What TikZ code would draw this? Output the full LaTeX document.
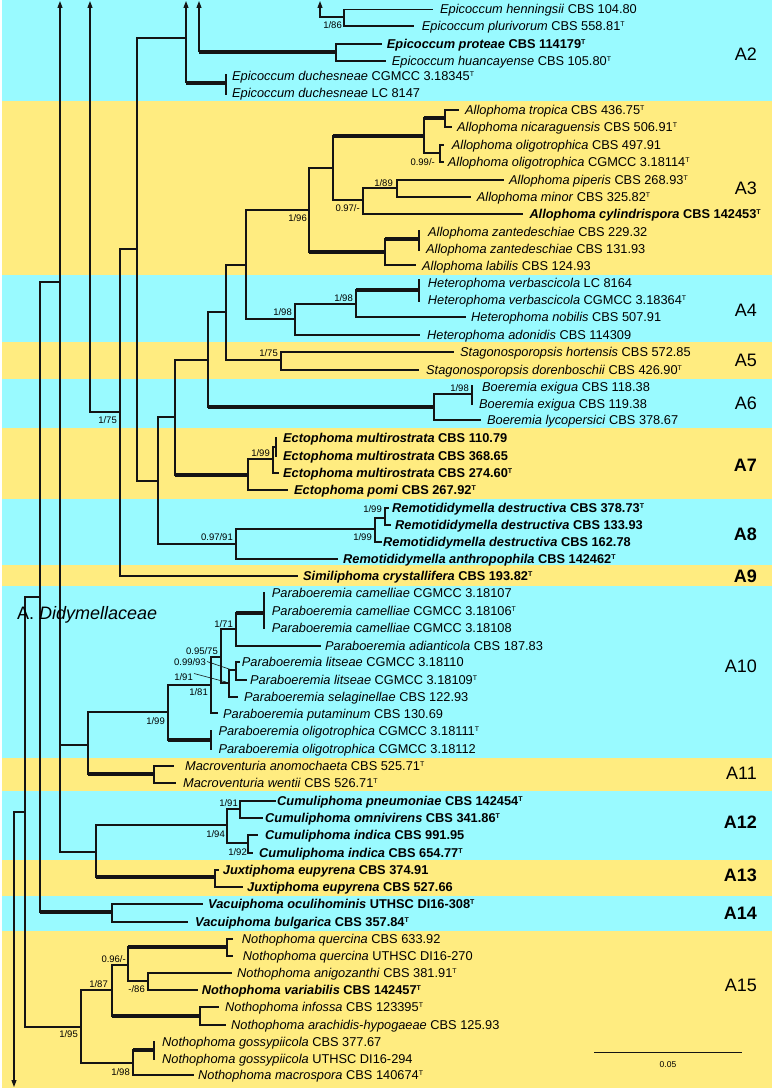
\documentclass[tikz,border=0pt]{standalone}
\usepackage{fontspec}
\setmainfont{Liberation Sans}
\usetikzlibrary{arrows.meta}
\definecolor{cy}{RGB}{153,250,255}
\definecolor{yl}{RGB}{255,236,128}
\definecolor{ln}{RGB}{20,20,20}
\newcommand{\Ty}{\raisebox{4.3pt}{\fontsize{7}{7}\selectfont T}}
\newcommand{\brH}[3]{\draw[br] (#1,#3) -- (#2,#3);}
\newcommand{\brT}[3]{\draw[thk] (#1,#3) -- (#2,#3);}
\newcommand{\brV}[3]{\draw[br] (#1,#2) -- (#1,#3);}
\newcommand{\lf}[4]{\node[leaf] (#1) at (#2,{#3+4.4}) {#4};}
\newcommand{\lfb}[4]{\node[leaf,font=\fontsize{12.8}{14}\selectfont\bfseries] (#1) at (#2,{#3+4.4}) {#4};}
\newcommand{\sv}[4]{\node[supp] (#1) at (#2,{#3+3.4}) {#4};}
\newcommand{\cl}[3]{\node[clade] (#1) at (757,{#2+6.4}) {#3};}
\newcommand{\clb}[3]{\node[clade,font=\fontsize{18}{20}\selectfont\bfseries] (#1) at (757,{#2+6.4}) {#3};}
\tikzset{
  br/.style={draw=ln, line width=1.1pt, line cap=rect},
  thk/.style={draw=ln, line width=3.2pt},
  upar/.style={draw=ln, line width=1.1pt, -{Triangle[length=7pt,width=5pt]}},
  leaf/.style={anchor=base west, inner sep=0pt, font=\fontsize{12.8}{14}\selectfont},
  supp/.style={anchor=base east, inner sep=0pt, font=\fontsize{9.5}{10}\selectfont},
  clade/.style={anchor=base east, inner sep=0pt, font=\fontsize{18}{20}\selectfont},
}
\begin{document}
\begin{tikzpicture}[x=1pt,y=-1pt]
\useasboundingbox (0,0) rectangle (774,1089);
% bands
\fill[cy] (2,0) rectangle (772,101.5);
\fill[yl] (2,101.5) rectangle (772,275);
\fill[cy] (2,275) rectangle (772,342);
\fill[yl] (2,342) rectangle (772,378.5);
\fill[cy] (2,378.5) rectangle (772,427.5);
\fill[yl] (2,427.5) rectangle (772,498.5);
\fill[cy] (2,498.5) rectangle (772,565);
\fill[yl] (2,565) rectangle (772,585.5);
\fill[cy] (2,585.5) rectangle (772,757.5);
\fill[yl] (2,757.5) rectangle (772,791);
\fill[cy] (2,791) rectangle (772,859.5);
\fill[yl] (2,859.5) rectangle (772,895.5);
\fill[cy] (2,895.5) rectangle (772,931);
\fill[yl] (2,931) rectangle (772,1088);
% arrows off the crop
\draw[upar] (320,17) -- (320,1);
\draw[upar] (199,52) -- (199,1);
\draw[upar] (186,83) -- (186,1);
\draw[upar] (90,412) -- (90,1);
\draw[upar] (60,852) -- (60,1);
\draw[upar] (14,812) -- (14,1087);
% Epicoccum
\brH{320}{344}{17}
\brV{344}{9.5}{26}
\brH{344}{432}{9.5}
\brH{344}{413}{26}
\brT{199}{336}{52}
\brV{336}{44}{61}
\brH{336}{381}{44}
\brH{336}{385}{61}
\brH{137}{186}{38}
\brT{186}{226}{83}
\brV{226}{75}{94}
% backbone
\brV{137}{38}{481}
\brH{120}{137}{249}
\brV{120}{249}{576}
\brH{90}{120}{412}
\brH{120}{297}{576}
\brH{137}{158}{481}
\brV{158}{417}{544}
\brH{158}{175}{417}
\brV{175}{360}{475}
\brH{175}{208}{360}
\brV{208}{312}{407}
\brH{208}{226}{312}
\brV{226}{265}{360}
\brH{226}{246}{265}
\brV{246}{210}{319}
\brH{246}{309}{210}
\brV{309}{168}{252}
\brH{309}{333}{168}
\brV{333}{136}{200}
% Allophoma
\brT{333}{424}{136}
\brV{424}{118}{153}
\brT{424}{445}{118}
\brV{445}{110}{127}
\brH{445}{458}{110}
\brH{445}{451}{127}
\brH{424}{440}{153}
\brV{440}{145}{162}
\brH{440}{443}{145}
\brH{440}{443}{162}
\brH{333}{363}{200}
\brV{363}{188}{214}
\brH{363}{397}{188}
\brV{397}{180}{197}
\brH{397}{503}{180}
\brH{397}{470}{197}
\brH{363}{522}{214}
\brT{309}{385}{252}
\brV{385}{239}{265}
\brT{385}{419}{239}
\brV{419}{231}{250}
\brH{385}{415}{265}
% Heterophoma
\brH{246}{295}{319}
\brV{295}{304}{335}
\brH{295}{356}{304}
\brV{356}{290}{317}
\brT{356}{419}{290}
\brV{419}{280}{301}
\brH{356}{465}{317}
\brH{295}{419}{335}
% Stagonosporopsis
\brH{226}{281}{360}
\brV{281}{352}{370}
\brH{281}{453}{352}
\brH{281}{418}{370}
% Boeremia
\brT{208}{434}{407}
\brV{434}{394}{420}
\brH{434}{472}{394}
\brV{472}{386}{404}
\brH{434}{480}{420}
% Ectophoma
\brT{175}{248}{475}
\brV{248}{459}{490}
\brH{248}{273}{459}
\brV{273}{447}{473}
\brH{273}{276}{447}
\brV{276}{438}{456}
\brH{273}{278}{473}
\brH{248}{287}{490}
% Remotididymella
\brH{158}{236}{544}
\brV{236}{529}{559}
\brH{236}{375}{529}
\brV{375}{518}{542}
\brH{375}{385}{518}
\brV{385}{508}{525}
\brH{385}{388}{508}
\brH{385}{390}{525}
\brH{375}{381}{542}
\brH{236}{337}{559}
% Paraboeremia
\brH{40}{60}{282}
\brH{60}{88}{745}
\brV{88}{712}{774}
\brH{88}{168}{712}
\brV{168}{685}{740}
\brH{168}{211}{685}
\brV{211}{657}{713}
\brH{211}{217}{713}
\brH{211}{221}{657}
\brV{221}{629}{683}
\brH{221}{236}{629}
\brV{236}{613}{646}
\brT{236}{264}{613}
\brV{264}{593}{628}
\brH{236}{320}{646}
\brH{221}{229}{683}
\brV{229}{670}{697}
\brH{229}{236}{670}
\brV{236}{662}{680}
\brH{236}{239}{662}
\brH{236}{246}{680}
\brH{229}{237}{697}
\brT{168}{211}{740}
\brV{211}{731}{749}
% Macroventuria
\brT{88}{154}{774}
\brV{154}{766}{783}
\brH{154}{173}{766}
\brH{154}{175}{783}
% Cumuliphoma
\brH{60}{96}{852}
\brV{96}{825}{877}
\brH{96}{227}{825}
\brV{227}{809}{843}
\brH{227}{240}{809}
\brV{240}{801}{818}
\brH{240}{275}{801}
\brH{240}{262}{818}
\brH{227}{248}{843}
\brV{248}{835}{853}
\brH{248}{257}{835}
\brH{248}{252}{853}
% Juxtiphoma
\brT{96}{215}{877}
\brV{215}{870}{887}
\brH{215}{218}{870}
\brH{215}{242}{887}
% Vacuiphoma and base
\brV{40}{282}{912}
\brT{40}{112}{912}
\brV{112}{904}{922}
\brH{112}{202}{904}
\brH{112}{187}{922}
\brH{25}{40}{597}
\brV{25}{597}{1027}
\brH{25}{81}{1027}
\brH{14}{25}{812}
% Nothophoma
\brV{81}{990}{1063}
\brH{81}{112}{990}
\brV{112}{965}{1016}
\brH{112}{128}{965}
\brV{128}{947}{981}
\brT{128}{227}{947}
\brV{227}{939}{956}
\brH{227}{232}{939}
\brH{227}{232}{956}
\brH{128}{148}{981}
\brV{148}{973}{990}
\brH{148}{231}{973}
\brH{148}{197}{990}
\brT{112}{200}{1016}
\brV{200}{1007}{1025}
\brH{200}{218}{1007}
\brH{200}{225}{1025}
\brH{81}{133}{1063}
\brV{133}{1050}{1075}
\brT{133}{154}{1050}
\brV{154}{1042}{1059}
\brH{133}{193}{1075}
% leaves
\lf{l1}{440}{9.5}{\textit{Epicoccum henningsii} CBS 104.80}
\lf{l2}{421.7}{26}{\textit{Epicoccum plurivorum} CBS 558.81\Ty}
\lfb{l3}{386.7}{44}{\textit{Epicoccum proteae} CBS 114179\Ty}
\lf{l4}{391.7}{61}{\textit{Epicoccum huancayense} CBS 105.80\Ty}
\lf{l5}{232}{76.5}{\textit{Epicoccum duchesneae} CGMCC 3.18345\Ty}
\lf{l6}{232}{93}{\textit{Epicoccum duchesneae} LC 8147}
\lf{l7}{465}{110}{\textit{Allophoma tropica} CBS 436.75\Ty}
\lf{l8}{457}{127}{\textit{Allophoma nicaraguensis} CBS 506.91\Ty}
\lf{l9}{451.7}{145}{\textit{Allophoma oligotrophica} CBS 497.91}
\lf{l10}{447.7}{162}{\textit{Allophoma oligotrophica} CGMCC 3.18114\Ty}
\lf{l11}{509}{180}{\textit{Allophoma piperis} CBS 268.93\Ty}
\lf{l12}{476.7}{197}{\textit{Allophoma minor} CBS 325.82\Ty}
\lfb{l13}{529.3}{214}{\textit{Allophoma cylindrispora} CBS 142453\Ty}
\lf{l14}{428}{232}{\textit{Allophoma zantedeschiae} CBS 229.32}
\lf{l15}{426}{249}{\textit{Allophoma zantedeschiae} CBS 131.93}
\lf{l16}{422}{266}{\textit{Allophoma labilis} CBS 124.93}
\lf{l17}{427.7}{283}{\textit{Heterophoma verbascicola} LC 8164}
\lf{l18}{427.7}{300}{\textit{Heterophoma verbascicola} CGMCC 3.18364\Ty}
\lf{l19}{471}{317}{\textit{Heterophoma nobilis} CBS 507.91}
\lf{l20}{427}{335}{\textit{Heterophoma adonidis} CBS 114309}
\lf{l21}{460}{352}{\textit{Stagonosporopsis hortensis} CBS 572.85}
\lf{l22}{426}{370}{\textit{Stagonosporopsis dorenboschii} CBS 426.90\Ty}
\lf{l23}{482}{387}{\textit{Boeremia exigua} CBS 118.38}
\lf{l24}{479}{404}{\textit{Boeremia exigua} CBS 119.38}
\lf{l25}{487}{420}{\textit{Boeremia lycopersici} CBS 378.67}
\lfb{l26}{283}{438}{\textit{Ectophoma multirostrata} CBS 110.79}
\lfb{l27}{283}{456}{\textit{Ectophoma multirostrata} CBS 368.65}
\lfb{l28}{283}{473}{\textit{Ectophoma multirostrata} CBS 274.60\Ty}
\lfb{l29}{294}{490}{\textit{Ectophoma pomi} CBS 267.92\Ty}
\lfb{l30}{392}{508}{\textit{Remotididymella destructiva} CBS 378.73\Ty}
\lfb{l31}{395}{525}{\textit{Remotididymella destructiva} CBS 133.93}
\lfb{l32}{383}{542}{\textit{Remotididymella destructiva} CBS 162.78}
\lfb{l33}{343}{559}{\textit{Remotididymella anthropophila} CBS 142462\Ty}
\lfb{l34}{303}{576}{\textit{Similiphoma crystallifera} CBS 193.82\Ty}
\lf{l35}{271.7}{593}{\textit{Paraboeremia camelliae} CGMCC 3.18107}
\lf{l36}{271.7}{611}{\textit{Paraboeremia camelliae} CGMCC 3.18106\Ty}
\lf{l37}{271.7}{628}{\textit{Paraboeremia camelliae} CGMCC 3.18108}
\lf{l38}{325}{646}{\textit{Paraboeremia adianticola} CBS 187.83}
\lf{l39}{241.7}{662}{\textit{Paraboeremia litseae} CGMCC 3.18110}
\lf{l40}{250}{680}{\textit{Paraboeremia litseae} CGMCC 3.18109\Ty}
\lf{l41}{244}{697}{\textit{Paraboeremia selaginellae} CBS 122.93}
\lf{l42}{223}{714}{\textit{Paraboeremia putaminum} CBS 130.69}
\lf{l43}{218.3}{731}{\textit{Paraboeremia oligotrophica} CGMCC 3.18111\Ty}
\lf{l44}{218.3}{749}{\textit{Paraboeremia oligotrophica} CGMCC 3.18112}
\lf{l45}{185}{766}{\textit{Macroventuria anomochaeta} CBS 525.71\Ty}
\lf{l46}{183}{783}{\textit{Macroventuria wentii} CBS 526.71\Ty}
\lfb{l47}{277}{801}{\textit{Cumuliphoma pneumoniae} CBS 142454\Ty}
\lfb{l48}{265}{818}{\textit{Cumuliphoma omnivirens} CBS 341.86\Ty}
\lfb{l49}{265}{835}{\textit{Cumuliphoma indica} CBS 991.95}
\lfb{l50}{259}{853}{\textit{Cumuliphoma indica} CBS 654.77\Ty}
\lfb{l51}{222.7}{870}{\textit{Juxtiphoma eupyrena} CBS 374.91}
\lfb{l52}{247}{887}{\textit{Juxtiphoma eupyrena} CBS 527.66}
\lfb{l53}{208}{904}{\textit{Vacuiphoma oculihominis} UTHSC DI16-308\Ty}
\lfb{l54}{195}{922}{\textit{Vacuiphoma bulgarica} CBS 357.84\Ty}
\lf{l55}{241.7}{939}{\textit{Nothophoma quercina} CBS 633.92}
\lf{l56}{242.7}{956}{\textit{Nothophoma quercina} UTHSC DI16-270}
\lf{l57}{237}{973}{\textit{Nothophoma anigozanthi} CBS 381.91\Ty}
\lfb{l58}{201.7}{990}{\textit{Nothophoma variabilis} CBS 142457\Ty}
\lf{l59}{225}{1007}{\textit{Nothophoma infossa} CBS 123395\Ty}
\lf{l60}{231}{1025}{\textit{Nothophoma arachidis-hypogaeae} CBS 125.93}
\lf{l61}{162}{1042}{\textit{Nothophoma gossypiicola} CBS 377.67}
\lf{l62}{162}{1059}{\textit{Nothophoma gossypiicola} UTHSC DI16-294}
\lf{l63}{198}{1075}{\textit{Nothophoma macrospora} CBS 140674\Ty}
% support values
\sv{s1}{342}{25}{1/86}
\sv{s2}{435}{162}{0.99/-}
\sv{s3}{393}{183}{1/89}
\sv{s4}{360}{208}{0.97/-}
\sv{s5}{307}{218}{1/96}
\sv{s6}{353}{298}{1/98}
\sv{s7}{292}{312}{1/98}
\sv{s8}{278}{353}{1/75}
\sv{s9}{469}{388}{1/98}
\sv{s10}{117}{420}{1/75}
\sv{s11}{270}{453}{1/99}
\sv{s12}{382}{509}{1/99}
\sv{s13}{372}{537}{1/99}
\sv{s14}{233}{537}{0.97/91}
\sv{s15}{233}{624}{1/71}
\sv{s16}{218}{651}{0.95/75}
\sv{s17}{206}{662}{0.99/93}
\sv{s18}{193}{677}{1/91}
\sv{s19}{208}{692}{1/81}
\sv{s20}{165}{721}{1/99}
\sv{s21}{238}{803}{1/91}
\sv{s22}{225}{834}{1/94}
\sv{s23}{247}{852}{1/92}
\sv{s24}{126}{959}{0.96/-}
\sv{s25}{108}{984}{1/87}
\sv{s26}{145}{989}{-/86}
\sv{s27}{78}{1034}{1/95}
\sv{s28}{130}{1072}{1/98}
\draw[draw=ln, line width=0.6pt] (s17.east) ++(1,-0.5) -- (232,670);
\draw[draw=ln, line width=0.6pt] (s18.east) ++(1,-3.5) -- (226,682);
% clade labels
\cl{A2}{54}{A2}
\cl{A3}{188}{A3}
\cl{A4}{310}{A4}
\cl{A5}{360}{A5}
\cl{A6}{403}{A6}
\clb{A7}{465}{A7}
\clb{A8}{534}{A8}
\clb{A9}{576}{A9}
\cl{A10}{666}{A10}
\cl{A11}{773}{A11}
\clb{A12}{822}{A12}
\clb{A13}{875}{A13}
\clb{A14}{913}{A14}
\cl{A15}{985}{A15}
\node[anchor=base west, inner sep=0pt, font=\fontsize{18}{20}\selectfont] (fam) at (17,619.5) {A. \textit{Didymellaceae}};
% scale bar
\draw[draw=ln, line width=1pt] (594,1052) coordinate (sb1) -- (742,1052) coordinate (sb2);
\node[font=\fontsize{8.5}{9}\selectfont, inner sep=0pt] (sbl) at (668,1065) {0.05};
\end{tikzpicture}
\end{document}
